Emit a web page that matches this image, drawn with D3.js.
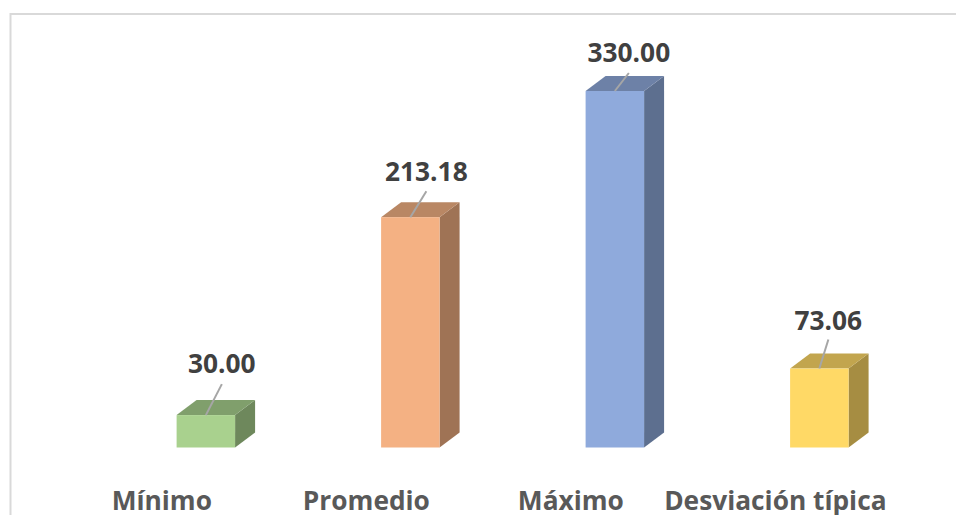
<!DOCTYPE html>
<html><head><meta charset="utf-8">
<script src="https://cdn.jsdelivr.net/npm/d3@7"></script>
<style>html,body{margin:0;padding:0;background:#fff;overflow:hidden}svg{display:block}</style>
</head><body><svg id="c" width="956" height="515"></svg>
<script>
const categories = ["Mínimo", "Promedio", "Máximo", "Desviación típica"];
const values = [30.00, 213.18, 330.00, 73.06];
const colors = ["#A9D18E", "#F4B183", "#8FAADC", "#FFD966"];
// label placement relative to each bar's top-centre: dx, leader rise, baseline rise
const labelDx = [16, 16, 14, 9];
const leaderRise = [31, 26, 18, 29];
const labelRise = [42, 36, 29, 39];

const svg = d3.select("#c");
const font = "'Open Sans', sans-serif";
const W = 956, H = 515, depthX = 20, depthY = 15;
const x = d3.scaleBand().domain(categories).range([103.6, 921.6]).paddingInner(0.714).paddingOuter(0.357);
const y = d3.scaleLinear().domain([0, 330]).range([447.5, 91]);

svg.append("path").attr("d", `M10.5,${H}V14H${W}`).attr("fill", "none").attr("stroke", "#d9d9d9").attr("stroke-width", 2);

const g = svg.selectAll("g.bar").data(categories).join("g").attr("class", "bar");
const poly = pts => "M" + pts.map(p => p.join(",")).join("L") + "Z";
g.each(function (c, i) {
  const s = d3.select(this), x0 = x(c), x1 = x0 + x.bandwidth(), yt = y(values[i]), yb = y(0);
  const base = d3.rgb(colors[i]);
  const shade = k => d3.rgb(base.r * k, base.g * k, base.b * k).formatHex();
  s.append("path").attr("fill", shade(0.65)).attr("d", poly([[x1, yt], [x1 + depthX, yt - depthY], [x1 + depthX, yb - depthY], [x1, yb]]));
  s.append("path").attr("fill", shade(0.76)).attr("d", poly([[x0, yt], [x0 + depthX, yt - depthY], [x1 + depthX, yt - depthY], [x1, yt]]));
  s.append("rect").attr("x", x0).attr("y", yt).attr("width", x.bandwidth()).attr("height", yb - yt).attr("fill", colors[i]);
  const cx = x0 + x.bandwidth() / 2;
  s.append("line").attr("x1", cx).attr("y1", yt).attr("x2", cx + labelDx[i]).attr("y2", yt - leaderRise[i])
    .attr("stroke", "#a6a6a6").attr("stroke-width", 2);
  s.append("text").attr("x", cx + labelDx[i]).attr("y", yt - labelRise[i]).attr("text-anchor", "middle")
    .attr("font-family", font).attr("font-weight", 700).attr("font-size", 26.3).attr("fill", "#404040")
    .text(values[i].toFixed(2));
});

const axis = d3.axisBottom(x).tickSize(0);
const ax = svg.append("g").attr("transform", "translate(0,447.5)").call(axis);
ax.select(".domain").remove();
ax.selectAll("text").attr("y", 0).attr("dy", 0).attr("transform", "translate(-44,62)")
  .attr("font-family", font).attr("font-weight", 700).attr("font-size", 26.3).attr("fill", "#595959");
</script></body></html>
